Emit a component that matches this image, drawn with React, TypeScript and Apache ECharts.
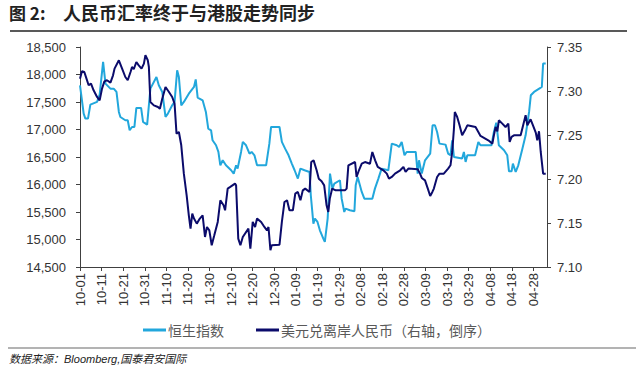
import React, { useEffect, useRef } from "react";
import * as echarts from "echarts";

// x axis: days counted from 10-01
const tickLabels = [
  "10-01", "10-11", "10-21", "10-31", "11-10", "11-20", "11-30", "12-10", "12-20", "12-30",
  "01-09", "01-19", "01-29", "02-08", "02-18", "02-28", "03-09", "03-19", "03-29", "04-08",
  "04-18", "04-28",
];

// 恒生指数 (left axis)
const hsiDay = [
  0, 1.7, 2.5, 3.7, 4.8, 7.9, 9.1, 10.7, 11.8, 14.1, 15.6, 16.9, 18, 18.7, 21, 22.1, 23, 24.1, 25.2, 26.1,
  28.3, 29.2, 31.1, 32.6, 35.4, 36.5, 38.1, 39.6, 40.7, 42.7, 43.8, 45, 45.8, 46.9, 48.1, 50.4, 52.8, 53.6,
  54.5, 56.8, 58.3, 59.4, 60.7, 61.4, 63, 64.1, 65, 66.1, 67.6, 70, 71.2, 72.3, 73, 74.6, 75.4, 76.9, 78.5,
  79.5, 80.8, 82, 86.2, 87.7, 88.5, 92.4, 93.5, 95, 96.6, 98.1, 99.4, 100.9, 102.1, 104, 106.3, 106.9, 108.1,
  108.8, 110, 111.1, 112.7, 113.4, 114.7, 115.8, 116.9, 117.8, 120.4, 121.2, 122.4, 123, 125, 127.1, 127.7,
  128.6, 130.5, 131.7, 135.4, 136.6, 138.2, 139.7, 142.8, 144.4, 146.7, 147.8, 149, 150.3, 151.3, 155.5,
  156.4, 157, 158.3, 159.8, 162.2, 163.3, 164.4, 165.4, 166.5, 169.3, 170.5, 171.6, 172.4, 173.2, 177,
  177.8, 178.6, 179.4, 183, 184.5, 185.5, 190.6, 191.7, 192.8, 194, 196.4, 197.9, 198.7, 199.9, 200.5,
  201.8, 203, 204.9, 206.4, 208, 208.8, 210.3, 212.7, 213.9, 214.5, 215.7,
];
const hsiVal = [
  17804, 17289, 17198, 17198, 17452, 17501, 17634, 18228, 17834, 17743, 17743, 17683, 17319, 17228, 17168,
  17168, 16986, 17046, 17046, 17392, 17392, 17137, 17089, 17743, 17955, 17804, 17683, 17228, 17289, 17440,
  17501, 18076, 17955, 17440, 17501, 17652, 17773, 17910, 17580, 17531, 17319, 17016, 16986, 16804, 16713,
  16592, 16349, 16440, 16349, 16259, 16198, 16349, 16289, 16592, 16774, 16713, 16562, 16592, 16531, 16349,
  16349, 16743, 17046, 17046, 16774, 16652, 16531, 16380, 16259, 16107, 16289, 16259, 16228, 15804, 15289,
  15380, 15319, 15168, 15016, 14956, 15380, 16198, 15925, 16016, 16077, 15743, 15501, 15562, 15531, 15513,
  15986, 16137, 15865, 15743, 15743, 15925, 16107, 16289, 16259, 16743, 16713, 16683, 16774, 16531, 16592,
  16592, 16198, 16440, 16198, 16440, 16562, 17077, 17077, 16955, 16743, 16725, 16562, 16531, 16804, 16501,
  16471, 16592, 16410, 16531, 16531, 16774, 16713, 16713, 16955, 17125, 16713, 16622, 16531, 16240, 16240,
  16380, 16228, 16349, 16652, 16895, 17319, 17622, 17683, 17743, 17773, 18198, 18198,
];

// 美元兑离岸人民币 (right axis)
const cnhDay = [
  0, 0.9, 2, 3, 4, 5.1, 6.3, 7.9, 9.1, 10.2, 11.3, 12.5, 14.1, 15.3, 16, 18, 19.5, 21, 22.1, 23.4, 24.1, 24.9,
  26.1, 27.2, 28.5, 29.6, 30.3, 31.4, 31.9, 32.6, 34.2, 36.1, 37, 38.1, 39.6, 41.2, 42.7, 43.8, 44.7, 45.8,
  46.9, 48.1, 49.4, 50.4, 51.2, 52, 52.8, 54.1, 55.5, 56.8, 57.9, 58.8, 59.9, 61, 62.2, 63.8, 65, 66.5, 67.2,
  68.4, 69.6, 71.8, 72.3, 73.3, 74.3, 75.4, 78, 78.9, 80, 81.1, 82, 83.9, 85.4, 86.6, 87.3, 88.2, 88.8, 92.4,
  93.5, 94.7, 95.9, 97, 98.6, 99.7, 100.9, 102.1, 103.2, 104.3, 106.3, 107.1, 108.2, 109.6, 110.6, 111.9,
  113.1, 114.2, 115, 115.7, 116.8, 118.4, 122.7, 123.5, 124.3, 127.4, 128.1, 129.2, 130.5, 132, 134.3, 135.4,
  136.7, 137.9, 140.5, 142.1, 143.1, 144.4, 145.9, 148.3, 149.8, 150.8, 152.1, 156.4, 157.5, 158.3, 159.8,
  161.1, 162.2, 163.2, 163.9, 165.4, 166.5, 168.5, 170.5, 171.6, 172.4, 173.2, 173.6, 174.7, 175.8, 177,
  178.3, 179.4, 183.2, 184.5, 185.5, 189.1, 191, 191.7, 192.5, 193.3, 194, 195.6, 197.1, 198.4, 199, 199.9,
  201, 204.1, 206.4, 207.2, 208.7, 209.8, 211.1, 211.8, 212.6, 213.4, 214.5, 215.7,
];
const cnhVal = [
  7.314, 7.3224, 7.3216, 7.314, 7.3065, 7.3084, 7.3008, 7.2932, 7.2894, 7.3027, 7.311, 7.3122, 7.3095, 7.3178,
  7.3254, 7.3349, 7.3254, 7.3159, 7.3122, 7.3216, 7.3273, 7.3247, 7.333, 7.3292, 7.3254, 7.3311, 7.3406,
  7.3349, 7.3273, 7.2875, 7.2837, 7.2818, 7.2799, 7.2913, 7.3046, 7.2989, 7.2932, 7.2856, 7.2515, 7.2534,
  7.2383, 7.2061, 7.1815, 7.1587, 7.1436, 7.1606, 7.155, 7.1493, 7.155, 7.1587, 7.1341, 7.1455, 7.1417,
  7.1247, 7.136, 7.1512, 7.1758, 7.1701, 7.1644, 7.1891, 7.191, 7.1947, 7.1928, 7.1322, 7.1247, 7.1341,
  7.1436, 7.1209, 7.1512, 7.1455, 7.155, 7.1512, 7.1455, 7.1417, 7.1455, 7.119, 7.1247, 7.1254, 7.1512,
  7.1739, 7.1758, 7.1644, 7.1644, 7.1834, 7.1853, 7.1758, 7.1871, 7.1891, 7.1853, 7.2193, 7.2212, 7.21,
  7.2004, 7.1974, 7.1928, 7.1701, 7.1625, 7.1777, 7.1891, 7.1871, 7.1871, 7.1891, 7.2155, 7.2193, 7.2023,
  7.2099, 7.2174, 7.2193, 7.2174, 7.2307, 7.2212, 7.2137, 7.2099, 7.2061, 7.2004, 7.2023, 7.2061, 7.2099,
  7.2137, 7.208, 7.2118, 7.211, 7.2061, 7.2012, 7.1985, 7.1891, 7.1807, 7.1853, 7.1891, 7.2023, 7.2061,
  7.2061, 7.2118, 7.2156, 7.2307, 7.2572, 7.2762, 7.2705, 7.261, 7.2496, 7.2553, 7.261, 7.2591, 7.2534,
  7.2489, 7.244, 7.2402, 7.2496, 7.2591, 7.2542, 7.2667, 7.2629, 7.2591, 7.2629, 7.2421, 7.2478, 7.2496,
  7.2496, 7.2724, 7.261, 7.2678, 7.261, 7.2527, 7.244, 7.2542, 7.2307, 7.2061, 7.2061,
];

const leftMin = 14500;
const leftMax = 18500;
const leftStep = 500;
const rightMin = 7.1;
const rightMax = 7.35;
const rightStep = 0.05;

const seriesNames = ["恒生指数", "美元兑离岸人民币（右轴，倒序）"];
const titleNo = "图 2:";
const titleText = "人民币汇率终于与港股走势同步";
const sourceText = "数据来源：Bloomberg,国泰君安国际";

const CYAN = "#22A7DC";
const NAVY = "#0B0B6B";
const AXIS = "#404040";
const LABEL = "#333333";

export default function App() {
  const ref = useRef<HTMLDivElement>(null);
  useEffect(() => {
    if (!ref.current) return;
    const chart = echarts.init(ref.current, undefined, { renderer: "svg" });
    const hsi = hsiDay.map((d, i) => [d, hsiVal[i]]);
    const cnh = cnhDay.map((d, i) => [d, cnhVal[i]]);
    const labelFont = { fontFamily: "Liberation Sans, Arial, sans-serif", fontSize: 13, color: LABEL };
    chart.setOption({
      animation: false,
      backgroundColor: "#ffffff",
      grid: { left: 80, right: 93, top: 47, bottom: 110, containLabel: false },
      legend: {
        left: 138,
        top: 318,
        itemWidth: 23,
        itemHeight: 3,
        itemGap: 32,
        icon: "rect",
        textStyle: { fontFamily: "Noto Sans CJK SC", fontSize: 14, color: "#595959", padding: [0, 0, 0, -3] },
        data: seriesNames,
      },
      xAxis: {
        type: "value",
        min: 0,
        max: 216.3,
        interval: 10,
        splitLine: { show: false },
        axisLine: { show: true, lineStyle: { color: AXIS, width: 1 } },
        axisTick: { show: true, length: 4, lineStyle: { color: AXIS } },
        axisLabel: {
          ...labelFont,
          rotate: 90,
          margin: 6,
          showMaxLabel: false,
          formatter: (v: number) => {
            const i = Math.round(v / 10);
            return Math.abs(v - i * 10) < 0.01 && tickLabels[i] ? tickLabels[i] : "";
          },
        },
      },
      yAxis: [
        {
          type: "value",
          min: leftMin,
          max: leftMax,
          interval: leftStep,
          splitLine: { show: false },
          axisLine: { show: true, lineStyle: { color: AXIS, width: 1 } },
          axisTick: { show: true, length: 4, lineStyle: { color: AXIS } },
          axisLabel: {
            ...labelFont,
            margin: 14,
            formatter: (v: number) => v.toLocaleString("en-US"),
          },
        },
        {
          type: "value",
          min: rightMin,
          max: rightMax,
          interval: rightStep,
          position: "right",
          splitLine: { show: false },
          axisLine: { show: true, lineStyle: { color: AXIS, width: 1 } },
          axisTick: { show: true, length: 4, lineStyle: { color: AXIS } },
          axisLabel: {
            ...labelFont,
            margin: 10,
            formatter: (v: number) => v.toFixed(2),
          },
        },
      ],
      series: [
        {
          name: seriesNames[0],
          type: "line",
          yAxisIndex: 0,
          data: hsi,
          showSymbol: false,
          lineStyle: { color: CYAN, width: 2 },
          itemStyle: { color: CYAN },
          z: 2,
        },
        {
          name: seriesNames[1],
          type: "line",
          yAxisIndex: 1,
          data: cnh,
          showSymbol: false,
          lineStyle: { color: NAVY, width: 2 },
          itemStyle: { color: NAVY },
          z: 3,
        },
      ],
      graphic: [
        {
          type: "text",
          left: 9,
          top: 4,
          style: {
            text: titleNo,
            fontFamily: "Noto Sans CJK SC",
            fontWeight: "bold",
            fontSize: 17,
            fill: "#222222",
          },
        },
        {
          type: "text",
          left: 63,
          top: 3,
          style: {
            text: titleText,
            fontFamily: "Noto Sans CJK SC",
            fontWeight: "bold",
            fontSize: 18,
            fill: "#222222",
          },
        },
        {
          type: "line",
          shape: { x1: 10, y1: 31, x2: 627, y2: 31 },
          style: { stroke: "#222222", lineWidth: 1.5 },
        },
        {
          type: "line",
          shape: { x1: 8, y1: 348, x2: 636, y2: 348 },
          style: { stroke: "#9a9a9a", lineWidth: 1.5 },
        },
        {
          type: "text",
          left: 9,
          top: 353,
          style: {
            text: sourceText,
            fontFamily: "Liberation Sans, Noto Sans CJK SC",
            fontStyle: "italic",
            fontSize: 11,
            fill: "#222222",
          },
        },
      ],
    });
    return () => chart.dispose();
  }, []);
  return (
    <div
      ref={ref}
      style={{ position: "absolute", left: 0, top: 0, width: 640, height: 377 }}
    />
  );
}
